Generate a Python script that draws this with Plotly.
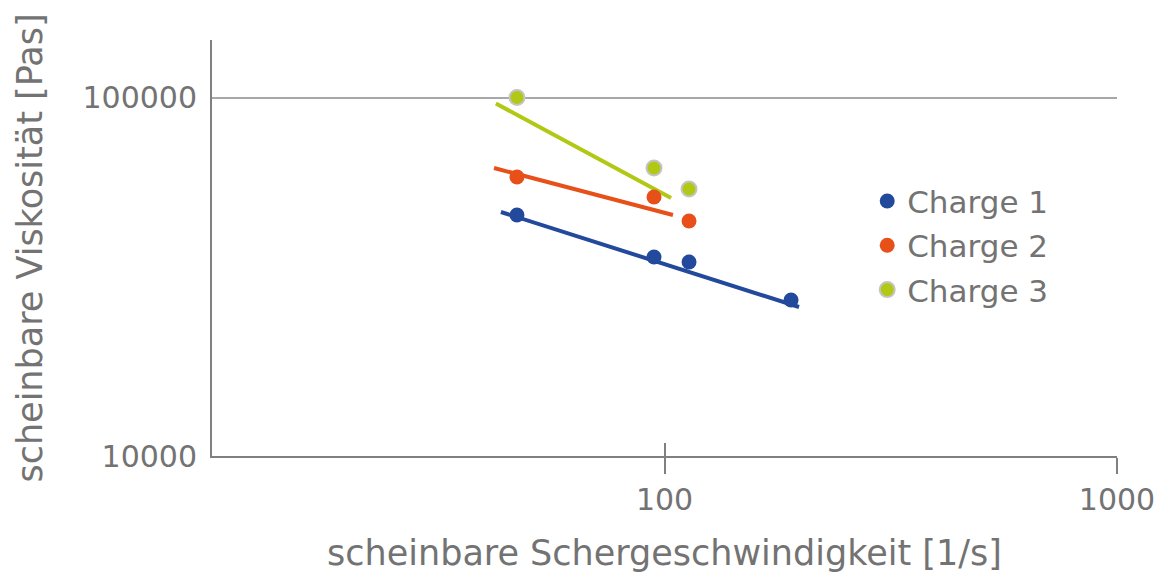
import plotly.graph_objects as go

# Data
shear_rate = [47.2, 94.8, 113.3, 190.4]          # 1/s
charge1 = [47000, 35900, 34760, 27240]           # Pas
charge2_x = [47.2, 94.8, 113.3]
charge2 = [60000, 52790, 45230]
charge3_x = [47.2, 94.8, 113.3]
charge3 = [100000, 63580, 55560]

# Trend lines (power fits as drawn in the reference, start/end)
trend1_x = [43.5, 198.3]
trend1_y = [47930, 26040]
trend2_x = [42.0, 104.4]
trend2_y = [63580, 47000]
trend3_x = [42.4, 103.4]
trend3_y = [96230, 52450]

series_names = ["Charge 1", "Charge 2", "Charge 3"]
x_tickvals = [100, 1000]
y_tickvals = [10000, 100000]

BLUE = "#22499b"
ORANGE = "#e8501a"
GREEN = "#b1c815"
TEXT = "#737373"
FONT = "DejaVu Sans"
FS_TICK = 30
FS_TITLE = 35
FS_LEG = 31

fig = go.Figure()

# trend lines
for tx, ty, col in [(trend1_x, trend1_y, BLUE), (trend2_x, trend2_y, ORANGE), (trend3_x, trend3_y, GREEN)]:
    fig.add_trace(go.Scatter(x=tx, y=ty, mode="lines", line=dict(color=col, width=4),
                             showlegend=False, hoverinfo="skip"))

fig.add_trace(go.Scatter(x=shear_rate, y=charge1, mode="markers", name=series_names[0],
                         legendgroup="a", marker=dict(color=BLUE, size=15)))
fig.add_trace(go.Scatter(x=charge2_x, y=charge2, mode="markers", name=series_names[1],
                         legendgroup="b", marker=dict(color=ORANGE, size=15)))
fig.add_trace(go.Scatter(x=charge3_x, y=charge3, mode="markers", name=series_names[2],
                         legendgroup="c", marker=dict(color=GREEN, size=15,
                                                      line=dict(color="#c4c4c4", width=2))))

# dummy trace for inside tick overlay axis
fig.add_trace(go.Scatter(x=[1000], y=[10000], xaxis="x2", mode="markers",
                         marker=dict(opacity=0), showlegend=False, hoverinfo="skip"))

fig.update_layout(
    width=1166, height=574,
    margin=dict(l=212, r=49, t=40, b=118, autoexpand=False),
    plot_bgcolor="white", paper_bgcolor="white",
    font=dict(family=FONT, size=FS_TICK, color=TEXT),
    xaxis=dict(
        type="log", range=[1, 3], tickvals=x_tickvals, ticktext=["100", "1000"],
        showgrid=False, zeroline=False, showline=True, linecolor="#808080", linewidth=2,
        ticks="outside", ticklen=16, tickwidth=2, tickcolor="#808080",
        automargin=False,
        tickfont=dict(family=FONT, size=FS_TICK, color=TEXT),
        title=dict(text="scheinbare Schergeschwindigkeit [1/s]", standoff=24,
                   font=dict(family=FONT, size=FS_TITLE, color=TEXT)),
    ),
    xaxis2=dict(
        type="log", range=[1, 3], overlaying="x", tickvals=x_tickvals,
        showticklabels=False, showgrid=False, zeroline=False, showline=False,
        ticks="inside", ticklen=13, tickwidth=2, tickcolor="#808080", side="bottom",
        automargin=False,
    ),
    yaxis=dict(
        type="log", range=[4, 5.1604], tickvals=y_tickvals, ticktext=["10000", "100000"],
        showgrid=True, gridcolor="#a8a8a8", gridwidth=2, zeroline=False,
        showline=True, linecolor="#808080", linewidth=2, ticks="",
        ticklabelstandoff=7, automargin=False,
        tickfont=dict(family=FONT, size=FS_TICK, color=TEXT),
        title=dict(text="scheinbare Viskosität [Pas]", standoff=29,
                   font=dict(family=FONT, size=FS_TITLE, color=TEXT)),
    ),
    legend=dict(x=0.724, y=0.677, xanchor="left", yanchor="top",
                font=dict(family=FONT, size=FS_LEG, color=TEXT),
                bgcolor="rgba(0,0,0,0)", tracegroupgap=1, itemwidth=30),
    showlegend=True,
)

# remove the default 8px body margin so the figure sits at the page origin
fig.write_html("out.html", config={"displayModeBar": False},
               post_script="document.body.style.margin='0';")
